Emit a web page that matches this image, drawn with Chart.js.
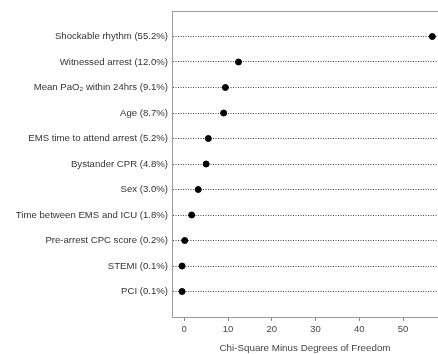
<!DOCTYPE html>
<html>
<head>
<meta charset="utf-8">
<script src="https://cdn.jsdelivr.net/npm/chart.js@4/dist/chart.umd.min.js"></script>
<style>
    html, body { margin: 0; padding: 0; background: #fff; }
    #wrap { width: 438px; height: 354px; }
</style>
</head>
<body>
<div id="wrap"><canvas id="myChart"></canvas></div>
<script>
// predictors, top to bottom
const labels = [
    'Shockable rhythm (55.2%)',
    'Witnessed arrest (12.0%)',
    'Mean PaO\u2082 within 24hrs (9.1%)',
    'Age (8.7%)',
    'EMS time to attend arrest (5.2%)',
    'Bystander CPR (4.8%)',
    'Sex (3.0%)',
    'Time between EMS and ICU (1.8%)',
    'Pre-arrest CPC score (0.2%)',
    'STEMI (0.1%)',
    'PCI (0.1%)'
];
const chi_minus_df = [56.7, 12.4, 9.4, 9.0, 5.5, 5.0, 3.2, 1.7, 0.1, -0.5, -0.5];
const x_ticks = [0, 10, 20, 30, 40, 50];

const n = labels.length;
const points = chi_minus_df.map((v, i) => ({ x: v, y: n - i }));

const ctx = document.getElementById('myChart').getContext('2d');

// top frame line of the plot
const topLine = {
    id: 'topLine',
    afterDraw(chart) {
        const a = chart.chartArea;
        const c = chart.ctx;
        c.save();
        c.strokeStyle = '#999';
        c.lineWidth = 1;
        c.beginPath();
        c.moveTo(a.left, a.top + 0.5);
        c.lineTo(a.right, a.top + 0.5);
        c.stroke();
        c.restore();
    }
};

var chart = new Chart(ctx, {
    type: 'scatter',
    data: {
        datasets: [{
            data: points,
            backgroundColor: '#000',
            borderColor: '#000',
            pointRadius: 3,
            pointHoverRadius: 3,
            clip: false
        }]
    },
    options: {
        responsive: true,
        maintainAspectRatio: false,
        animation: false,
        layout: { autoPadding: false, padding: { top: 11, right: 0, left: 0, bottom: 0 } },
        plugins: {
            legend: { display: false },
            tooltip: { enabled: false }
        },
        scales: {
            x: {
                type: 'linear',
                min: -2.8,
                max: 58,
                afterBuildTicks: (scale) => {
                    scale.ticks = x_ticks.map(v => ({ value: v }));
                },
                afterFit: (scale) => { scale.height = 37; },
                grid: {
                    drawOnChartArea: false,
                    drawTicks: true,
                    tickLength: 4,
                    tickColor: '#888'
                },
                border: { display: true, color: '#999', width: 1 },
                ticks: {
                    color: '#444',
                    font: { family: 'Liberation Sans', size: 9.5 },
                    padding: 3
                },
                title: {
                    display: true,
                    text: 'Chi-Square Minus Degrees of Freedom',
                    color: '#444',
                    font: { family: 'Liberation Sans', size: 9.8 },
                    padding: { top: 1, bottom: 0 }
                }
            },
            y: {
                type: 'linear',
                min: 0,
                max: n + 1,
                afterBuildTicks: (scale) => {
                    scale.ticks = labels.map((l, i) => ({ value: n - i }));
                },
                afterFit: (scale) => { scale.width = 172; },
                grid: {
                    drawTicks: false,
                    color: '#444',
                    lineWidth: 1
                },
                border: { display: true, color: '#999', width: 1, dash: [1, 1.5] },
                ticks: {
                    color: '#333',
                    font: { family: 'Liberation Sans', size: 9.6 },
                    padding: 4,
                    callback: (v) => labels[n - v]
                }
            }
        }
    },
    plugins: [topLine]
});
</script>
</body>
</html>
